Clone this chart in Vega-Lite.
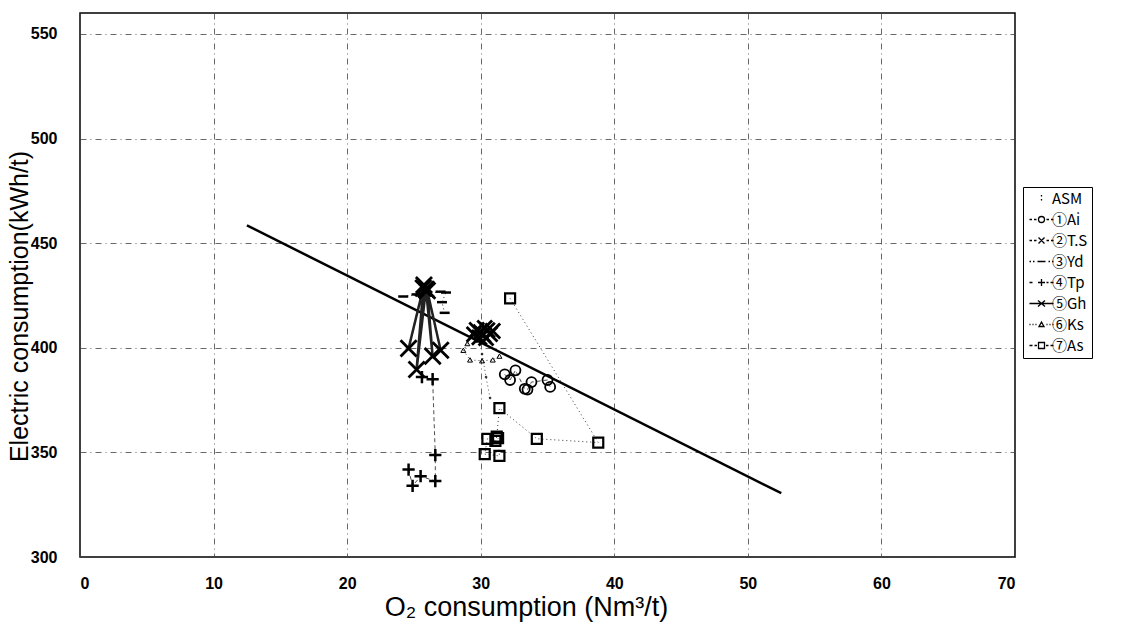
{
  "$schema": "https://vega.github.io/schema/vega-lite/v6.json",
  "width": 935,
  "height": 544,
  "autosize": {"type": "none"},
  "padding": {"left": 80, "top": 13, "right": 106, "bottom": 72},
  "background": "white",
  "config": {
    "font": "Liberation Sans",
    "view": {"stroke": "black", "strokeWidth": 1.5},
    "axis": {
      "domain": false,
      "ticks": false,
      "grid": true,
      "gridColor": "#444",
      "gridDash": [6, 4, 1, 4],
      "gridWidth": 1,
      "gridOpacity": 0.8,
      "labelFont": "Liberation Sans",
      "labelFontWeight": "bold",
      "labelFontSize": 16,
      "labelColor": "black",
      "titleFont": "Liberation Sans",
      "titleFontWeight": "normal",
      "titleColor": "black"
    }
  },
  "datasets": {
    "pts": [
      {"s": "ASM", "i": 1, "x": 30.1, "y": 397},
      {"s": "ASM", "i": 2, "x": 30.4, "y": 386},
      {"s": "ASM", "i": 3, "x": 30.7, "y": 376},
      {"s": "①Ai", "i": 1, "x": 31.8, "y": 387.3},
      {"s": "①Ai", "i": 2, "x": 32.2, "y": 384.6},
      {"s": "①Ai", "i": 3, "x": 32.6, "y": 389.2},
      {"s": "①Ai", "i": 4, "x": 33.3, "y": 380.4},
      {"s": "①Ai", "i": 5, "x": 33.5, "y": 380.0},
      {"s": "①Ai", "i": 6, "x": 33.8, "y": 383.6},
      {"s": "①Ai", "i": 7, "x": 35.0, "y": 384.6},
      {"s": "①Ai", "i": 8, "x": 35.2, "y": 381.3},
      {"s": "②T.S", "i": 1, "x": 29.7, "y": 408.5},
      {"s": "②T.S", "i": 2, "x": 30.0, "y": 407.5},
      {"s": "②T.S", "i": 3, "x": 30.2, "y": 406.2},
      {"s": "②T.S", "i": 4, "x": 30.5, "y": 408.4},
      {"s": "②T.S", "i": 5, "x": 30.7, "y": 406.5},
      {"s": "②T.S", "i": 6, "x": 29.9, "y": 405.0},
      {"s": "②T.S", "i": 7, "x": 30.4, "y": 404.6},
      {"s": "②T.S", "i": 8, "x": 29.5, "y": 406.4},
      {"s": "②T.S", "i": 9, "x": 30.9, "y": 408.0},
      {"s": "②T.S", "i": 10, "x": 30.3, "y": 409.5},
      {"s": "③Yd", "i": 1, "x": 24.2, "y": 424.5},
      {"s": "③Yd", "i": 2, "x": 25.2, "y": 425.5},
      {"s": "③Yd", "i": 3, "x": 27.0, "y": 426.8},
      {"s": "③Yd", "i": 4, "x": 27.4, "y": 426.4},
      {"s": "③Yd", "i": 5, "x": 27.1, "y": 421.8},
      {"s": "③Yd", "i": 6, "x": 27.3, "y": 416.7},
      {"s": "④Tp", "i": 1, "x": 25.6, "y": 386.0},
      {"s": "④Tp", "i": 2, "x": 26.4, "y": 385.0},
      {"s": "④Tp", "i": 3, "x": 26.6, "y": 348.7},
      {"s": "④Tp", "i": 4, "x": 26.6, "y": 336.3},
      {"s": "④Tp", "i": 5, "x": 25.5, "y": 338.6},
      {"s": "④Tp", "i": 6, "x": 24.9, "y": 334.0},
      {"s": "④Tp", "i": 7, "x": 24.6, "y": 341.8},
      {"s": "⑤Gh", "i": 1, "x": 25.75, "y": 430.0},
      {"s": "⑤Gh", "i": 2, "x": 24.6, "y": 399.7},
      {"s": "⑤Gh", "i": 3, "x": 25.7, "y": 428.5},
      {"s": "⑤Gh", "i": 4, "x": 25.2, "y": 389.6},
      {"s": "⑤Gh", "i": 5, "x": 25.9, "y": 428.0},
      {"s": "⑤Gh", "i": 6, "x": 26.4, "y": 396.0},
      {"s": "⑤Gh", "i": 7, "x": 26.0, "y": 427.3},
      {"s": "⑤Gh", "i": 8, "x": 27.0, "y": 398.8},
      {"s": "⑥Ks", "i": 1, "x": 29.0, "y": 402.0},
      {"s": "⑥Ks", "i": 2, "x": 28.7, "y": 398.8},
      {"s": "⑥Ks", "i": 3, "x": 29.2, "y": 394.2},
      {"s": "⑥Ks", "i": 4, "x": 30.1, "y": 393.8},
      {"s": "⑥Ks", "i": 5, "x": 30.9, "y": 394.2},
      {"s": "⑥Ks", "i": 6, "x": 31.4, "y": 396.0},
      {"s": "⑦As", "i": 1, "x": 32.2, "y": 423.6},
      {"s": "⑦As", "i": 2, "x": 38.8, "y": 354.7},
      {"s": "⑦As", "i": 3, "x": 34.2, "y": 356.5},
      {"s": "⑦As", "i": 4, "x": 31.4, "y": 371.2},
      {"s": "⑦As", "i": 5, "x": 31.2, "y": 357.5},
      {"s": "⑦As", "i": 6, "x": 31.1, "y": 355.5},
      {"s": "⑦As", "i": 7, "x": 30.5, "y": 356.5},
      {"s": "⑦As", "i": 8, "x": 30.3, "y": 349.2},
      {"s": "⑦As", "i": 9, "x": 31.4, "y": 348.3},
      {"s": "⑦As", "i": 10, "x": 31.3, "y": 356.8}
    ],
    "fit": [
      {"x": 12.5, "y": 458.5},
      {"x": 52.5, "y": 330.5}
    ]
  },
  "layer": [
    {
      "data": {"name": "fit"},
      "mark": {"type": "line", "stroke": "black", "strokeWidth": 2.5},
      "encoding": {
        "x": {"field": "x", "type": "quantitative", "scale": {"domain": [0, 70]},
          "axis": {"values": [0, 10, 20, 30, 40, 50, 60, 70], "title": "O₂ consumption (Nm³/t)",
                   "labelPadding": 18, "labelFontSize": 16, "titleFontSize": 27,
                   "titleX": 446, "titleY": 50, "titleBaseline": "middle", "titleAlign": "center", "titleAnchor": null}},
        "y": {"field": "y", "type": "quantitative", "scale": {"domain": [300, 550]},
          "axis": {"values": [300, 350, 400, 450, 500, 550], "title": "Electric consumption(kWh/t)",
                   "labelPadding": 23, "labelFontSize": 16, "titleFontSize": 25,
                   "titleX": -61, "titleY": 293, "titleBaseline": "middle", "titleAlign": "center", "titleAngle": -90}}
      }
    },
    {
      "data": {"name": "pts"},
      "mark": {"type": "line", "color": "#222"},
      "encoding": {
        "x": {"field": "x", "type": "quantitative"},
        "y": {"field": "y", "type": "quantitative"},
        "detail": {"field": "s"},
        "order": {"field": "i", "type": "quantitative"},
        "strokeDash": {"field": "s", "type": "nominal", "legend": null,
          "scale": {"domain": ["ASM", "①Ai", "②T.S", "③Yd", "④Tp", "⑤Gh", "⑥Ks", "⑦As"],
                    "range": [[1, 3], [4, 3], [4, 3], [1, 3], [4, 3], [1, 0], [1, 3], [1, 3]]}},
        "strokeWidth": {"field": "s", "type": "nominal", "legend": null,
          "scale": {"type": "ordinal", "domain": ["ASM", "①Ai", "②T.S", "③Yd", "④Tp", "⑤Gh", "⑥Ks", "⑦As"],
                    "range": [0.8, 0.8, 0.8, 1, 0.8, 2.5, 0.9, 0.9]}}
      }
    },
    {
      "data": {"name": "pts"},
      "mark": {"type": "point", "filled": false, "color": "black", "opacity": 1},
      "encoding": {
        "x": {"field": "x", "type": "quantitative"},
        "y": {"field": "y", "type": "quantitative"},
        "shape": {"field": "s", "type": "nominal", "legend": null,
          "scale": {"domain": ["ASM", "①Ai", "②T.S", "③Yd", "④Tp", "⑤Gh", "⑥Ks", "⑦As"],
                    "range": ["circle", "circle", "M-1,-1L1,1M-1,1L1,-1", "M-1,0L1,0", "M-1,0L1,0M0,-1L0,1", "M-1,-1L1,1M-1,1L1,-1", "triangle-up", "square"]}},
        "size": {"field": "s", "type": "nominal", "legend": null,
          "scale": {"type": "ordinal", "domain": ["ASM", "①Ai", "②T.S", "③Yd", "④Tp", "⑤Gh", "⑥Ks", "⑦As"],
                    "range": [3, 100, 220, 100, 150, 260, 25, 100]}},
        "strokeWidth": {"field": "s", "type": "nominal", "legend": null,
          "scale": {"type": "ordinal", "domain": ["ASM", "①Ai", "②T.S", "③Yd", "④Tp", "⑤Gh", "⑥Ks", "⑦As"],
                    "range": [1, 1.8, 2.8, 2.5, 2.5, 2.8, 1, 2.2]}}
      }
    },
    {
      "data": {"name": "pts"},
      "mark": {"type": "point", "filled": false, "color": "black", "opacity": 0},
      "encoding": {
        "x": {"field": "x", "type": "quantitative"},
        "y": {"field": "y", "type": "quantitative"},
        "shape": {"field": "s", "type": "nominal",
          "scale": {"domain": ["ASM", "①Ai", "②T.S", "③Yd", "④Tp", "⑤Gh", "⑥Ks", "⑦As"],
                    "range": [
                      "M0,-0.7L0,-0.4M0,0.1L0,0.4",
                      "M-2.4,0L-1.9,0M-1.5,0L-1,0M-0.6,0A0.6,0.6 0 1,0 0.6,0A0.6,0.6 0 1,0 -0.6,0M1,0L1.5,0M1.9,0L2.4,0",
                      "M-2.4,0L-1.9,0M-1.5,0L-1,0M-0.6,-0.6L0.6,0.6M-0.6,0.6L0.6,-0.6M1,0L1.5,0M1.9,0L2.4,0",
                      "M-2.4,0L-2.1,0M-1.7,0L-1.4,0M-0.8,0L0.8,0M1.4,0L1.7,0M2.1,0L2.4,0",
                      "M-2.4,0L-1.8,0M-0.7,0L0.7,0M0,-0.7L0,0.7M1,0L1.4,0M1.8,0L2.4,0",
                      "M-2.4,0L2.4,0M-0.7,-0.6L0.7,0.6M-0.7,0.6L0.7,-0.6",
                      "M-2.4,0L-2.2,0M-1.8,0L-1.6,0M-1.2,0L-1,0M-0.5,0.4L0,-0.5L0.5,0.4ZM1,0L1.2,0M1.6,0L1.8,0M2.2,0L2.4,0",
                      "M-2.4,0L-1.8,0M-1.4,0L-0.9,0M-0.6,-0.6L0.6,-0.6L0.6,0.6L-0.6,0.6ZM0.9,0L1.4,0M1.8,0L2.4,0"
                    ]},
          "legend": {
            "title": null,
            "orient": "none",
            "legendX": 943,
            "legendY": 174,
            "padding": 4,
            "strokeColor": "black",
            "symbolSize": 100,
            "symbolStrokeWidth": 1.3,
            "symbolStrokeColor": "black",
            "symbolOpacity": 1,
            "symbolOffset": 7,
            "labelOffset": 3,
            "labelFont": "Noto Sans CJK JP",
            "labelFontSize": 15,
            "labelColor": "black",
            "rowPadding": 5,
            "encode": {"legend": {"update": {"strokeDash": {"value": [2, 2]}}}}
          }
        }
      }
    }
  ],
  "resolve": {
    "scale": {"shape": "independent", "strokeWidth": "independent", "size": "independent"},
    "legend": {"shape": "independent", "strokeWidth": "independent", "size": "independent"}
  }
}
